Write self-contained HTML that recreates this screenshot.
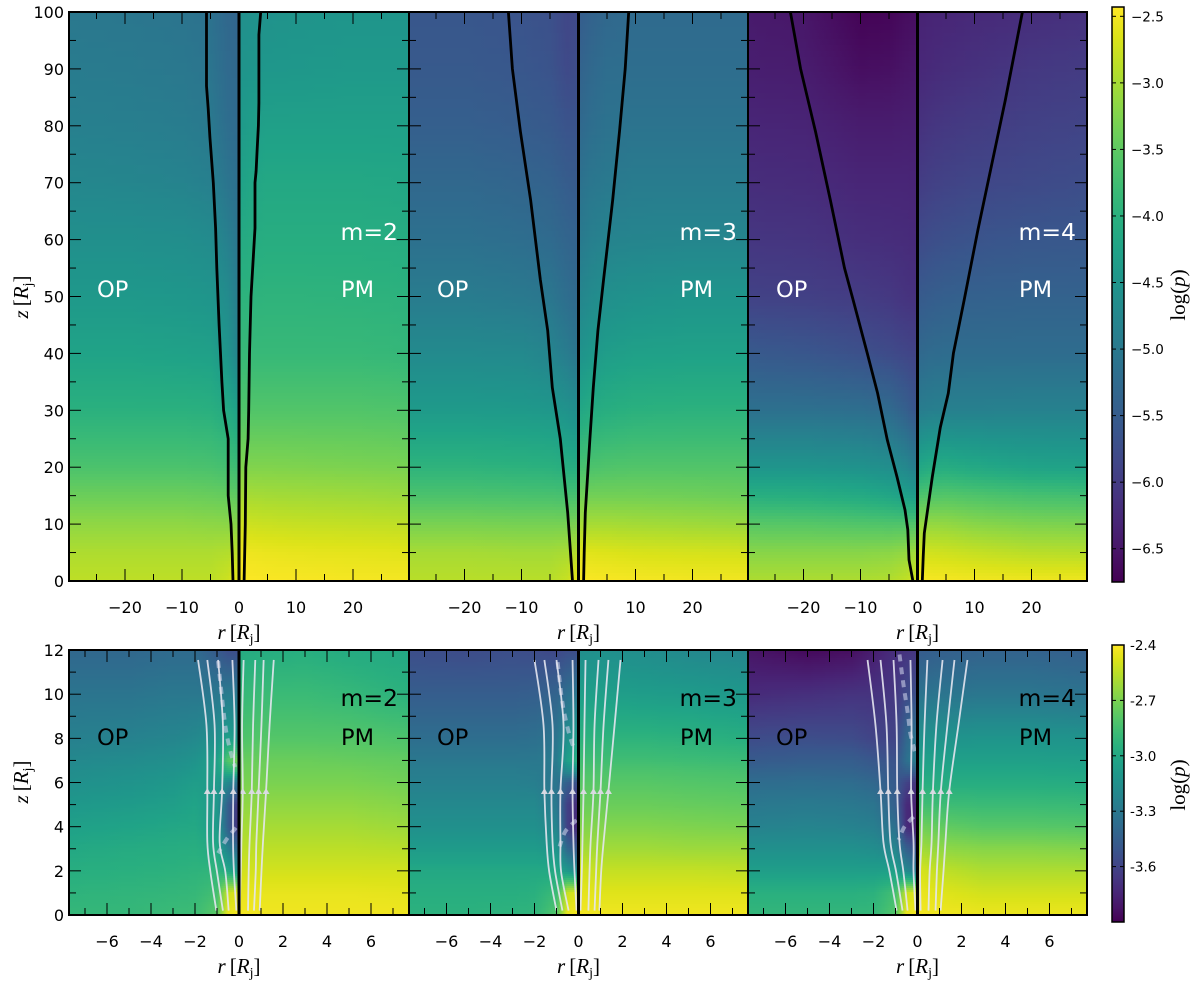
<!DOCTYPE html>
<html>
<head>
<meta charset="utf-8">
<title>Pressure maps for m=2, m=3, m=4</title>
<style>
html,body{margin:0;padding:0;background:#fff;width:1200px;height:982px;overflow:hidden}
svg{display:block}
text{font-family:"DejaVu Sans","Liberation Sans",sans-serif;fill:#000}
.math{font-family:"Liberation Serif","DejaVu Serif",serif;font-size:21px}
.math .i{font-style:italic}
</style>
</head>
<body>
<svg id="fig" xmlns="http://www.w3.org/2000/svg" width="1200" height="982" viewBox="0 0 1200 982"></svg>
<script>
// ---------- heatmap grids: log(p) ----------
const rNodesTop = [-30,-20,-10,-5,-2,-0.01,0.01,2,5,10,20,30];
const zNodesTop = [100,90,80,70,60,50,40,30,20,15,10,5,0];
const logpTopM2 = [
[-5.02,-5.04,-5.08,-5.14,-5.30,-5.36,-4.60,-4.58,-4.55,-4.52,-4.50,-4.50],
[-4.96,-4.98,-5.02,-5.08,-5.26,-5.30,-4.52,-4.50,-4.46,-4.45,-4.42,-4.42],
[-4.88,-4.90,-4.94,-5.00,-5.20,-5.26,-4.42,-4.35,-4.30,-4.30,-4.30,-4.30],
[-4.76,-4.78,-4.82,-4.88,-5.08,-5.18,-4.28,-4.20,-4.16,-4.16,-4.16,-4.18],
[-4.60,-4.60,-4.63,-4.68,-4.88,-5.08,-4.13,-4.08,-4.06,-4.06,-4.06,-4.08],
[-4.43,-4.43,-4.46,-4.50,-4.68,-4.95,-3.98,-3.96,-3.95,-3.95,-3.96,-3.98],
[-4.25,-4.25,-4.28,-4.30,-4.50,-4.85,-3.85,-3.85,-3.85,-3.85,-3.85,-3.88],
[-4.00,-4.00,-4.00,-4.02,-4.12,-4.30,-3.62,-3.60,-3.60,-3.60,-3.60,-3.62],
[-3.65,-3.65,-3.65,-3.67,-3.72,-3.80,-3.25,-3.25,-3.25,-3.26,-3.28,-3.30],
[-3.40,-3.40,-3.40,-3.42,-3.45,-3.50,-3.00,-3.00,-3.02,-3.03,-3.05,-3.08],
[-3.15,-3.15,-3.15,-3.17,-3.18,-3.20,-2.75,-2.76,-2.78,-2.80,-2.82,-2.84],
[-2.95,-2.95,-2.95,-2.95,-2.92,-2.85,-2.52,-2.54,-2.56,-2.58,-2.60,-2.62],
[-2.85,-2.85,-2.85,-2.85,-2.75,-2.55,-2.44,-2.44,-2.45,-2.46,-2.48,-2.48]];
const logpTopM3 = [
[-5.60,-5.60,-5.65,-5.70,-5.85,-5.80,-5.50,-5.40,-5.30,-5.25,-5.25,-5.25],
[-5.55,-5.55,-5.60,-5.65,-5.80,-5.75,-5.40,-5.30,-5.20,-5.20,-5.20,-5.20],
[-5.45,-5.45,-5.50,-5.55,-5.65,-5.65,-5.30,-5.20,-5.12,-5.10,-5.10,-5.10],
[-5.30,-5.30,-5.35,-5.40,-5.50,-5.55,-5.15,-5.05,-5.00,-4.95,-4.95,-4.95],
[-5.15,-5.15,-5.20,-5.25,-5.35,-5.40,-5.00,-4.90,-4.82,-4.80,-4.78,-4.78],
[-4.95,-4.95,-5.00,-5.05,-5.20,-5.30,-4.80,-4.70,-4.60,-4.55,-4.50,-4.50],
[-4.70,-4.70,-4.72,-4.80,-4.95,-5.10,-4.55,-4.45,-4.35,-4.30,-4.28,-4.28],
[-4.40,-4.40,-4.42,-4.45,-4.55,-4.65,-4.20,-4.10,-4.05,-4.00,-3.98,-3.98],
[-3.95,-3.95,-3.98,-4.00,-4.05,-4.10,-3.70,-3.65,-3.62,-3.60,-3.60,-3.60],
[-3.65,-3.65,-3.67,-3.68,-3.70,-3.70,-3.35,-3.35,-3.35,-3.35,-3.37,-3.40],
[-3.30,-3.30,-3.32,-3.32,-3.32,-3.28,-3.00,-3.00,-3.00,-3.02,-3.05,-3.08],
[-3.00,-3.00,-3.02,-3.02,-2.98,-2.88,-2.62,-2.63,-2.65,-2.68,-2.70,-2.72],
[-2.88,-2.88,-2.88,-2.88,-2.78,-2.55,-2.45,-2.45,-2.46,-2.48,-2.50,-2.50]];
const logpTopM4 = [
[-6.45,-6.50,-6.72,-6.70,-6.62,-6.60,-6.35,-6.32,-6.30,-6.25,-6.20,-6.15],
[-6.40,-6.42,-6.60,-6.58,-6.52,-6.50,-6.28,-6.25,-6.20,-6.15,-6.05,-6.00],
[-6.30,-6.32,-6.42,-6.42,-6.40,-6.40,-6.15,-6.10,-6.05,-6.00,-5.92,-5.88],
[-6.20,-6.22,-6.30,-6.30,-6.30,-6.32,-6.00,-5.95,-5.90,-5.85,-5.80,-5.75],
[-6.08,-6.10,-6.18,-6.20,-6.22,-6.25,-5.80,-5.75,-5.70,-5.65,-5.60,-5.58],
[-5.92,-5.94,-6.00,-6.05,-6.12,-6.15,-5.55,-5.50,-5.45,-5.42,-5.40,-5.40],
[-5.55,-5.60,-5.70,-5.78,-5.85,-5.90,-5.30,-5.25,-5.22,-5.22,-5.22,-5.22],
[-5.15,-5.15,-5.18,-5.25,-5.45,-5.65,-4.95,-4.90,-4.88,-4.87,-4.85,-4.85],
[-4.50,-4.50,-4.55,-4.62,-4.75,-4.95,-4.20,-4.10,-4.08,-4.15,-4.25,-4.28],
[-4.03,-4.05,-4.12,-4.20,-4.30,-4.40,-3.65,-3.60,-3.58,-3.62,-3.70,-3.73],
[-3.55,-3.56,-3.60,-3.62,-3.62,-3.60,-3.10,-3.12,-3.13,-3.20,-3.27,-3.29],
[-3.20,-3.20,-3.20,-3.18,-3.12,-3.00,-2.70,-2.73,-2.75,-2.80,-2.88,-2.90],
[-2.95,-2.95,-2.95,-2.92,-2.82,-2.70,-2.45,-2.47,-2.48,-2.50,-2.52,-2.52]];

const rNodesBottom = [-7.8,-5,-3,-2,-1,-0.5,-0.01,0.01,1,3,5,7.8];
const zNodesBottom = [12,10,8,7,6.5,6,5,4,3,2,1,0];
const logpBottomM2 = [
[-3.40,-3.40,-3.38,-3.38,-3.48,-3.55,-3.55,-2.98,-2.97,-2.96,-2.98,-3.00],
[-3.32,-3.32,-3.30,-3.30,-3.30,-3.28,-3.30,-2.90,-2.88,-2.88,-2.90,-2.94],
[-3.25,-3.24,-3.22,-3.20,-3.15,-3.05,-3.10,-2.82,-2.80,-2.80,-2.80,-2.82],
[-3.20,-3.18,-3.16,-3.13,-3.05,-2.80,-2.70,-2.75,-2.74,-2.74,-2.75,-2.76],
[-3.17,-3.15,-3.13,-3.10,-3.05,-2.95,-2.90,-2.72,-2.72,-2.72,-2.72,-2.74],
[-3.15,-3.13,-3.10,-3.07,-3.08,-3.20,-3.35,-2.70,-2.70,-2.70,-2.70,-2.72],
[-3.10,-3.08,-3.06,-3.03,-3.10,-3.45,-3.68,-2.65,-2.65,-2.65,-2.65,-2.67],
[-3.05,-3.03,-3.01,-3.00,-3.08,-3.45,-3.70,-2.60,-2.60,-2.60,-2.60,-2.62],
[-3.00,-2.98,-2.97,-2.96,-3.00,-3.25,-3.40,-2.55,-2.55,-2.55,-2.55,-2.56],
[-2.96,-2.95,-2.94,-2.93,-2.92,-3.00,-3.10,-2.50,-2.50,-2.50,-2.50,-2.50],
[-2.93,-2.92,-2.91,-2.90,-2.85,-2.52,-2.47,-2.45,-2.45,-2.45,-2.45,-2.46],
[-2.90,-2.90,-2.88,-2.87,-2.78,-2.44,-2.42,-2.42,-2.43,-2.43,-2.43,-2.43]];
const logpBottomM3 = [
[-3.55,-3.56,-3.55,-3.56,-3.58,-3.55,-3.55,-3.16,-3.15,-3.17,-3.20,-3.22],
[-3.46,-3.46,-3.46,-3.45,-3.42,-3.35,-3.30,-3.06,-3.06,-3.07,-3.08,-3.10],
[-3.36,-3.36,-3.36,-3.35,-3.32,-3.15,-3.05,-2.94,-2.93,-2.93,-2.94,-2.96],
[-3.30,-3.30,-3.30,-3.30,-3.28,-3.05,-2.95,-2.86,-2.86,-2.86,-2.87,-2.88],
[-3.27,-3.27,-3.27,-3.28,-3.30,-3.20,-3.15,-2.82,-2.82,-2.82,-2.83,-2.84],
[-3.25,-3.25,-3.25,-3.26,-3.32,-3.45,-3.55,-2.79,-2.79,-2.79,-2.80,-2.81],
[-3.20,-3.20,-3.20,-3.20,-3.30,-3.62,-3.72,-2.74,-2.74,-2.74,-2.75,-2.76],
[-3.15,-3.15,-3.15,-3.15,-3.22,-3.62,-3.75,-2.68,-2.68,-2.68,-2.69,-2.70],
[-3.08,-3.08,-3.08,-3.08,-3.12,-3.40,-3.50,-2.60,-2.61,-2.61,-2.62,-2.62],
[-3.00,-3.00,-3.00,-3.00,-3.00,-3.10,-3.20,-2.50,-2.53,-2.53,-2.53,-2.54],
[-2.96,-2.96,-2.96,-2.95,-2.88,-2.52,-2.47,-2.45,-2.47,-2.47,-2.47,-2.47],
[-2.94,-2.94,-2.93,-2.92,-2.80,-2.44,-2.42,-2.42,-2.43,-2.43,-2.43,-2.43]];
const logpBottomM4 = [
[-3.82,-3.87,-3.85,-3.78,-3.70,-3.68,-3.66,-3.47,-3.45,-3.43,-3.43,-3.45],
[-3.72,-3.70,-3.68,-3.68,-3.66,-3.56,-3.54,-3.33,-3.32,-3.31,-3.31,-3.33],
[-3.56,-3.55,-3.56,-3.60,-3.60,-3.40,-3.30,-3.14,-3.13,-3.12,-3.12,-3.13],
[-3.48,-3.46,-3.46,-3.50,-3.52,-3.35,-3.25,-3.05,-3.05,-3.05,-3.05,-3.06],
[-3.42,-3.41,-3.42,-3.45,-3.50,-3.45,-3.45,-3.01,-3.01,-3.01,-3.01,-3.02],
[-3.37,-3.36,-3.37,-3.40,-3.48,-3.60,-3.68,-2.96,-2.97,-2.97,-2.97,-2.98],
[-3.30,-3.29,-3.30,-3.32,-3.45,-3.72,-3.76,-2.86,-2.87,-2.88,-2.88,-2.89],
[-3.24,-3.23,-3.24,-3.26,-3.35,-3.72,-3.78,-2.72,-2.76,-2.79,-2.79,-2.80],
[-3.15,-3.15,-3.15,-3.17,-3.22,-3.45,-3.55,-2.60,-2.65,-2.67,-2.67,-2.68],
[-3.06,-3.06,-3.06,-3.06,-3.05,-3.20,-3.30,-2.48,-2.54,-2.58,-2.58,-2.58],
[-2.95,-2.95,-2.95,-2.94,-2.85,-2.52,-2.47,-2.44,-2.47,-2.50,-2.50,-2.50],
[-2.91,-2.91,-2.91,-2.90,-2.80,-2.44,-2.42,-2.42,-2.43,-2.44,-2.44,-2.44]];

// ---------- jet boundary curves (top row): r at given z ----------
const boundaryM2ZLeft = [100,87,83,78,74,70,62,55,45,35,30,25,15,10,5,0];
const boundaryM2Left = [-5.7,-5.7,-5.4,-5.1,-4.8,-4.5,-4.1,-3.9,-3.5,-3.0,-2.7,-1.9,-1.9,-1.4,-1.2,-1.05];
const boundaryM2ZRight = [100,96,84,80,76,72,70,62,50,40,30,25,20,10,0];
const boundaryM2Right = [3.8,3.5,3.5,3.4,3.2,3.0,2.8,2.8,2.1,1.85,1.7,1.6,1.2,1.1,0.9];
const boundaryM3Z = [100,90,79,67,53,44,34,25,12,5,0];
const boundaryM3Left = [-12.3,-11.6,-10.2,-8.4,-6.7,-5.4,-4.6,-3.2,-1.9,-1.4,-1.05];
const boundaryM3Right = [8.8,8.2,7.2,6.0,4.4,3.4,2.6,2.0,1.2,1.0,0.9];
const boundaryM4ZLeft = [100,90,79,67,55,49.4,40,33,24.8,18.3,12.5,9,3.7,0];
const boundaryM4Left = [-22.3,-20.5,-17.9,-15.3,-12.8,-11.3,-8.8,-7,-5.3,-3.6,-2.2,-1.7,-1.5,-0.8];
const boundaryM4ZRight = [100,84.5,61.7,49.4,40,33,27,18.3,12,8.4,4.2,0];
const boundaryM4Right = [18.4,15.4,10.6,8.2,6.3,5.4,4,2.6,1.7,1.2,1.0,0.85];

// ---------- field lines (bottom row): r per line at common heights ----------
const fieldZ = [11.55,8.6,5.6,3.3,1.95,0.2];
const fieldM2 = [
[-1.86,-1.48,-1.44,-1.44,-1.30,-1.03],
[-1.44,-1.11,-1.14,-1.18,-1.00,-0.73],
[-0.95,-0.73,-0.77,-0.88,-0.62,-0.47],
[-0.30,-0.20,-0.26,-0.27,-0.23,-0.12],
[0.21,0.14,0.17,0.11,0.08,0.03],
[0.74,0.64,0.58,0.48,0.44,0.41],
[1.12,1.02,0.89,0.79,0.76,0.68],
[1.58,1.39,1.23,1.09,1.02,0.94]];
const fieldM3 = [
[-2.00,-1.59,-1.55,-1.45,-1.33,-1.00],
[-1.55,-1.18,-1.23,-1.18,-1.06,-0.73],
[-1.00,-0.68,-0.82,-0.82,-0.79,-0.45],
[-0.27,-0.23,-0.27,-0.23,-0.18,-0.09],
[0.32,0.27,0.23,0.18,0.15,0.09],
[0.91,0.73,0.68,0.55,0.50,0.45],
[1.36,1.14,1.00,0.86,0.80,0.73],
[1.91,1.64,1.36,1.14,1.03,0.95]];
const fieldM4 = [
[-2.27,-1.91,-1.68,-1.55,-1.27,-0.95],
[-1.68,-1.41,-1.33,-1.23,-0.97,-0.68],
[-1.09,-0.95,-0.92,-0.82,-0.64,-0.45],
[-0.32,-0.27,-0.29,-0.18,-0.18,-0.09],
[0.45,0.32,0.23,0.18,0.12,0.14],
[1.14,0.86,0.70,0.64,0.55,0.50],
[1.68,1.36,1.06,0.95,0.88,0.82],
[2.27,1.86,1.44,1.27,1.18,1.05]];

// ---------- dashed surfaces (bottom row) ----------
const dashUpperM2R = [-0.95,-0.64,-0.41,-0.18];
const dashUpperM2Z = [11.5,8.7,7.5,6.7];
const dashLowerM2R = [-0.14,-0.55,-0.95];
const dashLowerM2Z = [3.95,3.45,2.8];
const dashUpperM3R = [-0.95,-0.73,-0.45,-0.23];
const dashUpperM3Z = [11.45,9.6,8.3,7.6];
const dashLowerM3R = [-0.09,-0.59,-0.86];
const dashLowerM3Z = [4.3,3.8,3.1];
const dashUpperM4R = [-0.82,-0.64,-0.45,-0.32,-0.09];
const dashUpperM4Z = [11.8,10.45,9.2,8.2,7.3];
const dashLowerM4R = [-0.18,-0.59,-0.86];
const dashLowerM4Z = [4.45,4.0,3.4];

// ---------- tick and label arrays ----------
const topXMajor = [-20,-10,0,10,20];
const topXMinor = [-25,-15,-5,5,15,25];
const topXLabels = ["\u221220","\u221210","0","10","20"];
const topYMajor = [0,10,20,30,40,50,60,70,80,90,100];
const topYMinor = [5,15,25,35,45,55,65,75,85,95];
const topYLabels = ["0","10","20","30","40","50","60","70","80","90","100"];
const botXMajor = [-6,-4,-2,0,2,4,6];
const botXMinor = [-7,-5,-3,-1,1,3,5,7];
const botXLabels = ["\u22126","\u22124","\u22122","0","2","4","6"];
const botYMajor = [0,2,4,6,8,10,12];
const botYMinor = [1,3,5,7,9,11];
const botYLabels = ["0","2","4","6","8","10","12"];
const cbTopValues = [-2.5,-3.0,-3.5,-4.0,-4.5,-5.0,-5.5,-6.0,-6.5];
const cbTopLabels = ["\u22122.5","\u22123.0","\u22123.5","\u22124.0","\u22124.5","\u22125.0","\u22125.5","\u22126.0","\u22126.5"];
const cbBottomValues = [-2.4,-2.7,-3.0,-3.3,-3.6];
const cbBottomLabels = ["-2.4","-2.7","-3.0","-3.3","-3.6"];
const modeLabels = ["m=2","m=3","m=4"];

// ---------- colour scale ----------
const viridis = ["#440154","#481567","#482677","#453781","#404788","#39568c","#33638d","#2d708e","#287d8e","#238a8d","#1f968b","#20a387","#29af7f","#3cbb75","#55c667","#73d055","#95d840","#b8de29","#dce319","#fde725"];
function hexRgb(h){return [parseInt(h.slice(1,3),16),parseInt(h.slice(3,5),16),parseInt(h.slice(5,7),16)];}
const viridisRgb = viridis.map(hexRgb);
function colorOf(v,vmin,vmax){
  let t=(v-vmin)/(vmax-vmin); t=Math.max(0,Math.min(1,t));
  const f=t*(viridisRgb.length-1), i=Math.min(viridisRgb.length-2,Math.floor(f)), u=f-i;
  const a=viridisRgb[i], b=viridisRgb[i+1];
  return "rgb("+Math.round(a[0]+(b[0]-a[0])*u)+","+Math.round(a[1]+(b[1]-a[1])*u)+","+Math.round(a[2]+(b[2]-a[2])*u)+")";
}

const NS="http://www.w3.org/2000/svg";
const fig=document.getElementById("fig");
const defs=document.createElementNS(NS,"defs");
fig.appendChild(defs);
function mk(tag,parent){const e=document.createElementNS(NS,tag);(parent||fig).appendChild(e);return e;}

let gradId=0;
function smoothPath(pts){
  let d="M"+pts[0][0].toFixed(2)+" "+pts[0][1].toFixed(2);
  for(let i=0;i<pts.length-1;i++){
    const p0=pts[Math.max(0,i-1)],p1=pts[i],p2=pts[i+1],p3=pts[Math.min(pts.length-1,i+2)];
    const c1=[p1[0]+(p2[0]-p0[0])/6,p1[1]+(p2[1]-p0[1])/6];
    const c2=[p2[0]-(p3[0]-p1[0])/6,p2[1]-(p3[1]-p1[1])/6];
    d+="C"+c1[0].toFixed(2)+" "+c1[1].toFixed(2)+" "+c2[0].toFixed(2)+" "+c2[1].toFixed(2)+" "+p2[0].toFixed(2)+" "+p2[1].toFixed(2);
  }
  return d;
}

function drawHeatmap(group,P,X,Y){
  const rows=P.grid, zs=P.zNodes, rs=P.rNodes;
  const step=P.strip;
  for(let y=P.y0;y<P.y1;y+=step){
    const z=(P.y1-(y+step/2))/P.pxZ;
    let k=0; while(k<zs.length-2 && z<zs[k+1]) k++;
    const u=Math.max(0,Math.min(1,(zs[k]-z)/(zs[k]-zs[k+1])));
    const vals=rs.map(function(_,c){return rows[k][c]+(rows[k+1][c]-rows[k][c])*u;});
    const g=mk("linearGradient",defs);
    const id="hg"+(gradId++);
    g.setAttribute("id",id);
    g.setAttribute("gradientUnits","userSpaceOnUse");
    g.setAttribute("x1",P.x0); g.setAttribute("x2",P.x1);
    g.setAttribute("y1",0); g.setAttribute("y2",0);
    const addStop=function(r,v){
      const off=(X(r)-P.x0)/(P.x1-P.x0);
      const s=mk("stop",g);
      s.setAttribute("offset",Math.max(0,Math.min(1,off)).toFixed(5));
      s.setAttribute("stop-color",colorOf(v,P.vmin,P.vmax));
    };
    for(let c=0;c<rs.length;c++){
      addStop(rs[c],vals[c]);
      if(c<rs.length-1 && rs[c+1]-rs[c]>0.1){
        addStop((rs[c]+rs[c+1])/2,(vals[c]+vals[c+1])/2);
      }
    }
    const rect=mk("rect",group);
    
    
    rect.setAttribute("x",P.x0); rect.setAttribute("y",y);
    rect.setAttribute("width",P.x1-P.x0); rect.setAttribute("height",Math.min(step+0.6,P.y1-y));
    rect.setAttribute("fill","url(#"+id+")");
  }
}

function tick(group,x1,y1,x2,y2,name){
  const l=mk("line",group);
  
  
  l.setAttribute("x1",x1);l.setAttribute("y1",y1);l.setAttribute("x2",x2);l.setAttribute("y2",y2);
  l.setAttribute("stroke","#000");l.setAttribute("stroke-width","1");
}

function mathLabel(group,x,y,sym,rot,name){
  const t=mk("text",group);
  
  
  t.setAttribute("class","math");
  t.setAttribute("text-anchor","middle");
  t.setAttribute("transform","translate("+x+" "+y+")"+(rot?" rotate(-90)":""));
  t.innerHTML='<tspan class="i">'+sym+'</tspan><tspan dx="4">[</tspan><tspan class="i">R</tspan><tspan dy="4" font-size="14">j</tspan><tspan dy="-4">]</tspan>';
}

const panels=[
 {idx:0,row:"top",x0:69,x1:409,y0:12,y1:581,grid:logpTopM2,rNodes:rNodesTop,zNodes:zNodesTop,vmin:-6.75,vmax:-2.43,pxR:5.7,pxZ:5.69,strip:3,
  bounds:[{z:boundaryM2ZLeft,r:boundaryM2Left},{z:boundaryM2ZRight,r:boundaryM2Right}]},
 {idx:1,row:"top",x0:409,x1:748,y0:12,y1:581,grid:logpTopM3,rNodes:rNodesTop,zNodes:zNodesTop,vmin:-6.75,vmax:-2.43,pxR:5.7,pxZ:5.69,strip:3,
  bounds:[{z:boundaryM3Z,r:boundaryM3Left},{z:boundaryM3Z,r:boundaryM3Right}]},
 {idx:2,row:"top",x0:748,x1:1087,y0:12,y1:581,grid:logpTopM4,rNodes:rNodesTop,zNodes:zNodesTop,vmin:-6.75,vmax:-2.43,pxR:5.7,pxZ:5.69,strip:3,
  bounds:[{z:boundaryM4ZLeft,r:boundaryM4Left},{z:boundaryM4ZRight,r:boundaryM4Right}]},
 {idx:0,row:"bottom",x0:69,x1:409,y0:650,y1:915,grid:logpBottomM2,rNodes:rNodesBottom,zNodes:zNodesBottom,vmin:-3.9,vmax:-2.4,pxR:22,pxZ:22.08,strip:2,
  field:fieldM2,dashes:[{r:dashUpperM2R,z:dashUpperM2Z},{r:dashLowerM2R,z:dashLowerM2Z}]},
 {idx:1,row:"bottom",x0:409,x1:748,y0:650,y1:915,grid:logpBottomM3,rNodes:rNodesBottom,zNodes:zNodesBottom,vmin:-3.9,vmax:-2.4,pxR:22,pxZ:22.08,strip:2,
  field:fieldM3,dashes:[{r:dashUpperM3R,z:dashUpperM3Z},{r:dashLowerM3R,z:dashLowerM3Z}]},
 {idx:2,row:"bottom",x0:748,x1:1087,y0:650,y1:915,grid:logpBottomM4,rNodes:rNodesBottom,zNodes:zNodesBottom,vmin:-3.9,vmax:-2.4,pxR:22,pxZ:22.08,strip:2,
  field:fieldM4,dashes:[{r:dashUpperM4R,z:dashUpperM4Z},{r:dashLowerM4R,z:dashLowerM4Z}]}
];

panels.forEach(function(P,n){
  const cx=(P.x0+P.x1)/2;
  const X=function(r){return cx+r*P.pxR;};
  const Y=function(z){return P.y1-z*P.pxZ;};
  const top=P.row==="top";
  const g=mk("g");
  
  

  const clip=mk("clipPath",defs);
  clip.setAttribute("id","clip"+n);
  const cr=mk("rect",clip);
  cr.setAttribute("x",P.x0);cr.setAttribute("y",P.y0);cr.setAttribute("width",P.x1-P.x0);cr.setAttribute("height",P.y1-P.y0);

  const hm=mk("g",g);
  
  
  hm.setAttribute("shape-rendering","crispEdges");
  drawHeatmap(hm,P,X,Y);

  const marks=mk("g",g);
  marks.setAttribute("clip-path","url(#clip"+n+")");

  if(P.bounds){
    P.bounds.forEach(function(b){
      const pl=mk("polyline",marks);
      
      
      pl.setAttribute("fill","none");
      pl.setAttribute("stroke","#000");
      pl.setAttribute("stroke-width","2.8");
      pl.setAttribute("points",b.z.map(function(z,i){return X(b.r[i]).toFixed(1)+","+Y(z).toFixed(1);}).join(" "));
    });
  }
  if(P.dashes){
    P.dashes.forEach(function(d){
      const pth=mk("path",marks);
      
      
      pth.setAttribute("fill","none");
      pth.setAttribute("stroke","rgba(200,205,230,0.6)");
      pth.setAttribute("stroke-width","4");
      pth.setAttribute("stroke-dasharray","7 6");
      pth.setAttribute("d",smoothPath(d.r.map(function(r,i){return [X(r),Y(d.z[i])];})));
    });
  }
  if(P.field){
    P.field.forEach(function(line){
      const pth=mk("path",marks);
      
      
      pth.setAttribute("fill","none");
      pth.setAttribute("stroke","rgba(228,230,240,0.9)");
      pth.setAttribute("stroke-width","1.8");
      pth.setAttribute("d",smoothPath(line.map(function(r,i){return [X(r),Y(fieldZ[i])];})));
      const ax=X(line[2]), ay=Y(fieldZ[2]);
      const tri=mk("polygon",marks);
      
      
      tri.setAttribute("fill","rgba(218,218,228,0.95)");
      tri.setAttribute("points",(ax-3.5)+","+(ay+2.6)+" "+(ax+3.5)+","+(ay+2.6)+" "+ax+","+(ay-3.4));
    });
  }
  const axisLine=mk("line",marks);
  
  
  axisLine.setAttribute("x1",X(0));axisLine.setAttribute("x2",X(0));
  axisLine.setAttribute("y1",P.y0);axisLine.setAttribute("y2",P.y1);
  axisLine.setAttribute("stroke","#000");axisLine.setAttribute("stroke-width","3");

  // ticks
  const xMaj=top?topXMajor:botXMajor, xMin=top?topXMinor:botXMinor, xLab=top?topXLabels:botXLabels;
  const yMaj=top?topYMajor:botYMajor, yMin=top?topYMinor:botYMinor, yLab=top?topYLabels:botYLabels;
  const ticks=mk("g",g);
  
  
  [[xMaj,12],[xMin,7]].forEach(function(s){
    s[0].forEach(function(v){
      tick(ticks,X(v),P.y1,X(v),P.y1-s[1],"x-tick");
      tick(ticks,X(v),P.y0,X(v),P.y0+s[1],"x-tick");
    });
  });
  [[yMaj,12],[yMin,7]].forEach(function(s){
    s[0].forEach(function(v){
      tick(ticks,P.x0,Y(v),P.x0+s[1],Y(v),"y-tick");
      tick(ticks,P.x1,Y(v),P.x1-s[1],Y(v),"y-tick");
    });
  });

  const spine=mk("rect",g);
  
  
  spine.setAttribute("x",P.x0);spine.setAttribute("y",P.y0);
  spine.setAttribute("width",P.x1-P.x0);spine.setAttribute("height",P.y1-P.y0);
  spine.setAttribute("fill","none");spine.setAttribute("stroke","#000");spine.setAttribute("stroke-width","2");

  // tick labels
  xMaj.forEach(function(v,i){
    const t=mk("text",g);
    
    
    t.setAttribute("x",X(v));
    t.setAttribute("y",P.y1+32);
    t.setAttribute("text-anchor","middle");
    t.setAttribute("font-size","16");
    t.textContent=xLab[i];
  });
  if(P.idx===0){
    yMaj.forEach(function(v,i){
      const t=mk("text",g);
      
      
      t.setAttribute("x",P.x0-5);
      t.setAttribute("y",Y(v)+6);
      t.setAttribute("text-anchor","end");
      t.setAttribute("font-size","16");
      t.textContent=yLab[i];
    });
    mathLabel(g,28,top?297:782,"z",true,"y-axis-title");
  }
  mathLabel(g,cx,P.y1+58,"r",false,"x-axis-title");

  // annotations
  const col=top?"#fff":"#000";
  const ann=[[modeLabels[P.idx],P.x1-11,top?240:706,"end","mode-label",23.5],
             ["OP",P.x0+28,top?297:745,"start","op-label",22.5],
             ["PM",P.x1-68,top?297:745,"start","pm-label",22.5]];
  ann.forEach(function(a){
    const t=mk("text",g);
    
    
    t.setAttribute("x",a[1]);t.setAttribute("y",a[2]);
    t.setAttribute("text-anchor",a[3]);
    t.setAttribute("font-size",a[5]);
    t.setAttribute("style","fill:"+col);
    t.textContent=a[0];
  });
});

// ---------- colour bars ----------
function colorbar(name,y0,y1,vmin,vmax,values,labels,labX,fs,titleY){
  const g=mk("g");
  
  
  const grad=mk("linearGradient",defs);
  grad.setAttribute("id",name+"-grad");
  grad.setAttribute("x1","0");grad.setAttribute("y1","1");grad.setAttribute("x2","0");grad.setAttribute("y2","0");
  viridis.forEach(function(c,i){
    const s=mk("stop",grad);
    s.setAttribute("offset",i/(viridis.length-1));
    s.setAttribute("stop-color",c);
  });
  const r=mk("rect",g);
  
  
  r.setAttribute("x",1112);r.setAttribute("y",y0);r.setAttribute("width",12);r.setAttribute("height",y1-y0);
  r.setAttribute("fill","url(#"+name+"-grad)");
  r.setAttribute("stroke","#000");r.setAttribute("stroke-width","1.5");
  values.forEach(function(v,i){
    const y=y1-(v-vmin)/(vmax-vmin)*(y1-y0);
    tick(g,1120,y,1124,y,"colorbar-tick");
    tick(g,1112,y,1116,y,"colorbar-tick");
    const t=mk("text",g);
    
    
    t.setAttribute("x",labX);t.setAttribute("y",y+5);
    t.setAttribute("font-size",fs);
    t.textContent=labels[i];
  });
  const title=mk("text",g);
  
  
  title.setAttribute("class","math");
  title.setAttribute("text-anchor","middle");
  title.setAttribute("transform","translate(1185 "+titleY+") rotate(-90)");
  title.innerHTML='log(<tspan class="i">p</tspan>)';
}
colorbar("colorbar-top",7,582,-6.75,-2.43,cbTopValues,cbTopLabels,1131,13.5,295);
colorbar("colorbar-bottom",645,922,-3.9,-2.4,cbBottomValues,cbBottomLabels,1130,13.5,785);
</script>
</body>
</html>
